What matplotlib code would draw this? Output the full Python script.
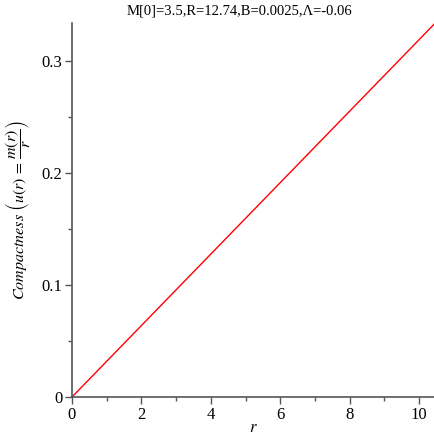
import matplotlib
matplotlib.use("Agg")
import matplotlib.pyplot as plt
from matplotlib.ticker import MultipleLocator, FuncFormatter

plt.rcParams['font.family'] = ['Liberation Serif', 'DejaVu Serif']
plt.rcParams['mathtext.fontset'] = 'stix'

# values
r = [0, 2, 4, 6, 8, 10, 10.46]
u = [0, 0.0638, 0.1276, 0.1914, 0.2552, 0.319, 0.3337]

title = "M[0]=3.5,R=12.74,B=0.0025,\u039b=-0.06"

fig = plt.figure(figsize=(4.35, 4.37), dpi=100)
ax = fig.add_axes([0.1655, 0.0915, 0.8345, 0.856])

ax.plot(r, u, color='red', linewidth=1)

ax.set_xlim(0, 10.46)
ax.set_ylim(0, 0.334)
ax.xaxis.set_major_locator(MultipleLocator(2))
ax.xaxis.set_minor_locator(MultipleLocator(1))
ax.yaxis.set_major_locator(MultipleLocator(0.1))
ax.yaxis.set_minor_locator(MultipleLocator(0.05))
ax.xaxis.set_major_formatter(FuncFormatter(lambda v, p: '%g' % round(v, 6)))
ax.yaxis.set_major_formatter(FuncFormatter(lambda v, p: '%g' % round(v, 6)))

for s in ['top', 'right']:
    ax.spines[s].set_visible(False)
for s in ['left', 'bottom']:
    ax.spines[s].set_color('#555555')
    ax.spines[s].set_linewidth(1.2)

ax.tick_params(which='major', length=5, width=1, color='#555555', labelsize=12, pad=2)
ax.tick_params(which='minor', length=3, width=1, color='#555555')
for lab in ax.get_xticklabels() + ax.get_yticklabels():
    lab.set_fontfamily('Liberation Serif')

ax.set_xlabel(r'$r$', fontsize=12, labelpad=-2)
ax.set_ylabel(r'$\mathit{Compactness}\ \left(u(r)\,=\,\dfrac{m(r)}{r}\right)$', fontsize=11.5, labelpad=6)
fig.text(0.55, 0.975, title, ha='center', va='center', fontsize=10.5)

fig.savefig("out.png", dpi=100)
